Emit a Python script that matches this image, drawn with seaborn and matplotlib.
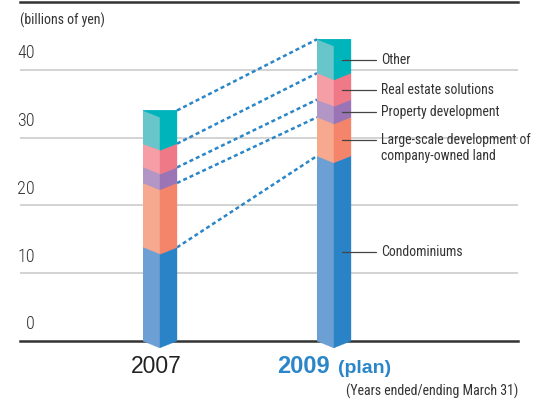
import numpy as np
import pandas as pd
import matplotlib
matplotlib.use("Agg")
import matplotlib.pyplot as plt
import seaborn as sns

# ---------------- data ----------------
years = ["2007", "2009"]
plan_suffix = "(plan)"
categories = [
    "Condominiums",
    "Large-scale development of\ncompany-owned land",
    "Property development",
    "Real estate solutions",
    "Other",
]
values_2007 = [13.8, 9.5, 2.3, 3.5, 4.9]
values_2009 = [27.3, 5.7, 2.6, 3.9, 5.0]
yticks = [0, 10, 20, 30, 40]
unit_label = "(billions of yen)"
note_label = "(Years ended/ending March 31)"

# ---------------- style ----------------
light_colors = ["#6c9fd4", "#f6a98f", "#b196c6", "#f59ea6", "#68c6ca"]
dark_colors = ["#2a83c6", "#f4846a", "#9a74b4", "#f07987", "#00b4bb"]
blue = "#2a86c8"
text_col = "#333333"

sns.set_style("white")
narrow = ["Roboto Condensed", "Barlow Condensed", "Archivo Narrow",
          "PT Sans Narrow", "Liberation Sans Narrow", "DejaVu Sans"]
plt.rcParams["font.family"] = ["Liberation Sans", "DejaVu Sans"]

fig = plt.figure(figsize=(5.37, 4.0), dpi=100)
ax = fig.add_axes([20 / 537, 59 / 400, 498 / 537, 339 / 400])

vals = np.array([values_2007, values_2009])
cum = vals.cumsum(axis=1)
bottoms = cum - vals
n = len(categories)

W = 0.195   # bar width (category units)
D = 1.0     # depth of the V-shaped facets (data units)

# stacked bars (light faces) via seaborn: cumulative totals, top layer first
for i in reversed(range(n)):
    df = pd.DataFrame({"year": years, "top": cum[:, i]})
    sns.barplot(data=df, x="year", y="top", color=light_colors[i], width=W,
                saturation=1, linewidth=0, errorbar=None, ax=ax, zorder=3)

# 3D prism facets
for j in range(len(years)):
    xl, xc, xr = j - W / 2, j, j + W / 2
    ax.fill([xl, xc, xc], [0, 0, -D], facecolor=light_colors[0],
            edgecolor=light_colors[0], lw=0.3, zorder=4, clip_on=False)
    for i in range(n):
        b, t = bottoms[j, i], cum[j, i]
        if i < n - 1:
            ax.fill([xl, xc, xc], [t, t, t - D], facecolor=light_colors[i + 1],
                    edgecolor=light_colors[i + 1], lw=0.3, zorder=4)
            ax.fill([xc, xr, xr, xc], [b - D, b, t, t - D],
                    facecolor=dark_colors[i], edgecolor=dark_colors[i],
                    lw=0.3, zorder=4.5, clip_on=False)
        else:
            ax.fill([xc, xr, xr, xl, xc], [b - D, b, t, t, t - D],
                    facecolor=dark_colors[i], edgecolor=dark_colors[i],
                    lw=0.3, zorder=4.5, clip_on=False)

# dotted connectors
for i in range(n):
    ax.plot([0 + W / 2, 1 - W / 2], [cum[0, i], cum[1, i]], color=blue,
            lw=1.8, ls=(0, (1.6, 1.2)), zorder=2.8)

xlim = (-0.8046, 2.0575)
ax.set_xlim(*xlim)
ax.set_ylim(0, 50)

# gridlines
ax.hlines(yticks[1:], xlim[0], xlim[1], color="#c8c8c8", lw=1.1, zorder=1)

# y tick labels (above the gridlines)
for v in yticks:
    ax.annotate(str(v), xy=(0, v), xycoords=("axes fraction", "data"),
                xytext=(10.8, 12.0), textcoords="offset points",
                ha="right", va="center", fontsize=13, family=narrow,
                fontweight="light", color=text_col)

# leaders + category labels
for i, lab in enumerate(categories):
    y = (bottoms[1, i] + cum[1, i]) / 2 - D / 2
    ax.plot([1.045, 1.24], [y, y], color="#444444", lw=0.9, zorder=6,
            clip_on=False)
    for k, line in enumerate(lab.split("\n")):
        ax.annotate(line, xy=(1.268, y), xytext=(0, -11.5 * k),
                    textcoords="offset points", ha="left", va="center",
                    fontsize=9.9, family=narrow, color=text_col)

# x labels
ax.annotate(years[0], xy=(0, 0), xytext=(-3, -23.3), textcoords="offset points",
            ha="center", va="baseline", fontsize=16.5, color="#222222")
ax.annotate(years[1], xy=(1, 0), xytext=(-2.9, -23.3), textcoords="offset points",
            ha="right", va="baseline", fontsize=17, fontweight="bold", color=blue)
ax.annotate(plan_suffix, xy=(1, 0), xytext=(2.9, -23.3), textcoords="offset points",
            ha="left", va="baseline", fontsize=14, fontweight="bold", color=blue)

# axes cosmetics
ax.set_xticks([])
ax.set_yticks([])
ax.set_xlabel("")
ax.set_ylabel("")
for s in ["left", "right"]:
    ax.spines[s].set_visible(False)
for s in ["top", "bottom"]:
    ax.spines[s].set_color("#333333")
    ax.spines[s].set_linewidth(1.8)

fig.text(20 / 537, 1 - 20 / 400, unit_label, ha="left", va="center",
         fontsize=10, family=narrow, color=text_col)
fig.text(518 / 537, 1 - 391.7 / 400, note_label, ha="right", va="center",
         fontsize=10, family=narrow, color=text_col)

fig.savefig("out.png", dpi=100)
